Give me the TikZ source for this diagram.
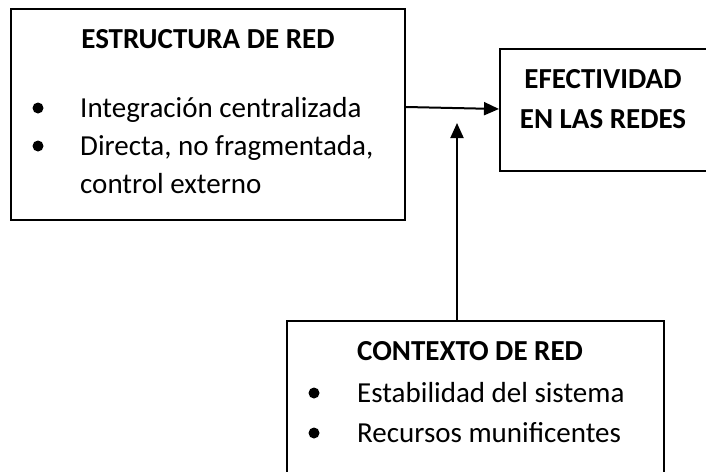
\documentclass[tikz,border=0pt]{standalone}
\usepackage{fontspec}
\setmainfont{Carlito}
\usetikzlibrary{arrows.meta}
\begin{document}
\begin{tikzpicture}[x = 1pt, y = -1pt,
                    every node/.style={inner sep=0pt, font=\fontsize{29}{34}\selectfont},
                    caja/.style={draw, line width=2pt, minimum width=#1},
                    bala/.style={circle, fill=black, minimum size=11pt},
                    titulo/.style={font=\fontsize{29}{34}\selectfont\bfseries},
                    flecha/.style={-{Triangle[length=15pt, width=13pt]}, line width=2pt}]
  \clip (0,0) rectangle (706,471);
  \useasboundingbox (0,0) rectangle (706,471);
  % cajas
  \node[caja=394pt, minimum height=211pt] (estructura) at (208,114.5) {};
  \node[caja=210pt, minimum height=122pt] (efectividad) at (605,110) {};
  \node[caja=377pt, minimum height=160pt] (contexto) at (475.5,401) {};
  % estructura de red
  \node[titulo, anchor=base] (tit1) at (208,48) {ESTRUCTURA DE RED};
  \node[bala] (b1) at (38,108) {};
  \node[bala] (b2) at (38,146) {};
  \node[anchor=base west] (it1) at (80,117) {Integración centralizada};
  \node[anchor=base west] (it2) at (80,155) {Directa, no fragmentada,};
  \node[anchor=base west] (it3) at (80,193) {control externo};
  % efectividad
  \node[titulo, anchor=base] (tit2) at (603,88) {EFECTIVIDAD};
  \node[titulo, anchor=base] (tit3) at (603,128) {EN LAS REDES};
  % contexto de red
  \node[titulo, anchor=base west] (tit4) at (357,360) {CONTEXTO DE RED};
  \node[bala] (b3) at (314,393) {};
  \node[bala] (b4) at (314,433) {};
  \node[anchor=base west] (it4) at (357,402) {Estabilidad del sistema};
  \node[anchor=base west] (it5) at (357,442) {Recursos munificentes};
  % flechas
  \coordinate (p1) at (estructura.east |- 0,107);
  \coordinate (p2) at (efectividad.west |- 0,109);
  \coordinate (p3) at (457,123);
  \draw[flecha] (p1) -- (p2);
  \draw[flecha] (contexto.north -| p3) -- (p3);
\end{tikzpicture}
\end{document}
